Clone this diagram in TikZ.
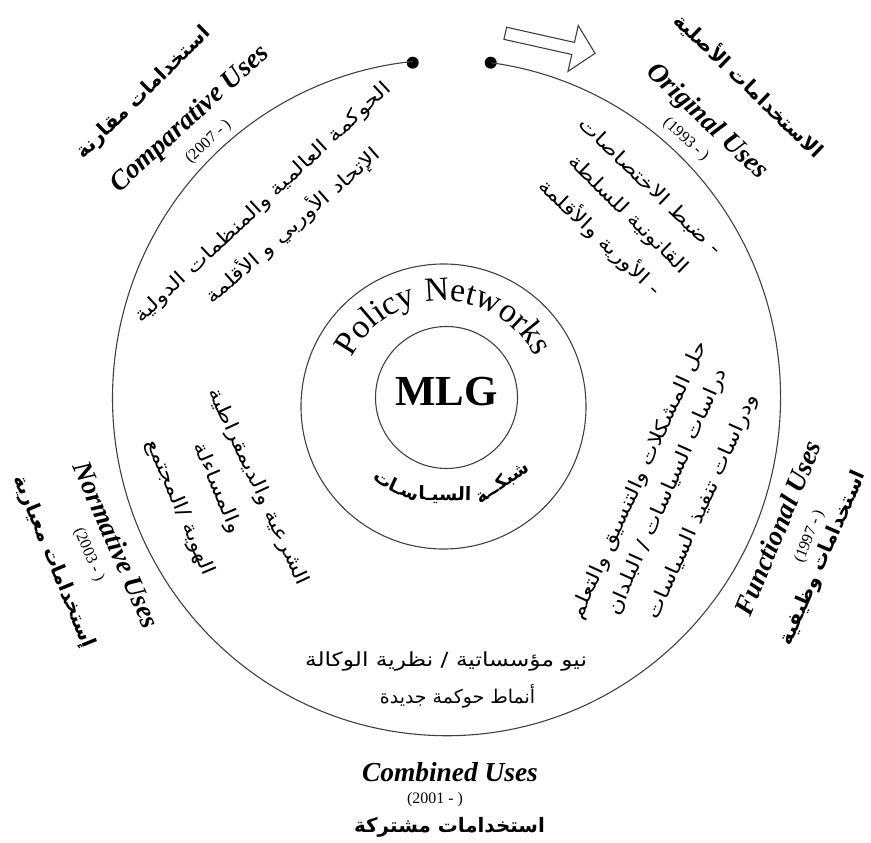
\documentclass[tikz,border=0pt]{standalone}
\usepackage{fontspec}
\setmainfont{Liberation Serif}
\newfontfamily\arabicfont[Script=Arabic]{DejaVu Sans}
\newfontfamily\arabicwide[Script=Arabic, FakeStretch=1.2]{DejaVu Sans}
\TeXXeTstate=1
\usetikzlibrary{decorations.text}
\newcommand{\rtl}[1]{\beginR #1\endR}

\begin{document}
\begin{tikzpicture}[x=1bp, y=1bp,
  ring/.style={draw=black!75, line width=1.1bp},
  enlabel/.style={inner sep=0, font=\fontsize{27.5}{30}\selectfont\bfseries\itshape},
  yearlabel/.style={inner sep=0, font=\fontsize{16}{18}\selectfont},
  arlabel/.style={inner sep=0, font=\arabicfont\bfseries\fontsize{20}{24}\selectfont},
  arnote/.style={inner sep=0, font=\arabicwide\fontsize{19.5}{22}\selectfont},
  arcpiece/.style={inner sep=0, font=\arabicfont\bfseries\fontsize{18.5}{20}\selectfont},
  enddot/.style={circle, fill=black, inner sep=0, minimum size=12bp}]
\useasboundingbox (-446.5,-443) rectangle (424.5,400);

% rings
\node[enddot] (rightdot) at (44.2,337.3) {};
\node[enddot] (leftdot) at (-33.8,337.3) {};
\draw[ring] (rightdot.center) arc[start angle=82.4, end angle=-264.2, x radius=334, y radius=338];
\draw[ring] (-3,-6.5) circle[radius=142.5];
\draw[ring] (0,2.5) circle[radius=71];

% hollow arrow
\draw[ring, fill=white, shift={(58.8,366.7)}, rotate=-12.6]
  (0,6.2) -- (69.5,6.2) -- (69.5,23.5) -- (92,0) -- (69.5,-23.5) -- (69.5,-6.2) -- (0,-6.2) -- cycle;

% centre
\node[inner sep=0, font=\fontsize{43}{43}\selectfont\bfseries] (mlg) at (0,8) {MLG};
\path[decorate, decoration={text along path, text align=center,
  text={|\fontsize{34}{34}\selectfont|Policy Networks}}]
  (-3,-4) ++(168:103) arc[start angle=168, end angle=12, radius=103];
\foreach \ang/\rad/\piece in {-56/100/شبكــة, -91/95/السيـا, -115/99/سـا, -128.5/104/ت}
  \node[arcpiece, rotate=\ang+90] at (\ang:\rad) {\rtl{\piece}};

% comparative
\node[arlabel, rotate=44.6] (comp-ar) at (134.6:431) {\rtl{استخدامات مقارنة}};
\node[enlabel, rotate=42.4] (comp-en) at (132.4:380) {Comparative Uses};
\node[yearlabel, rotate=42.7] (comp-year) at (132.7:351) {(2007 - )};
\node[arnote, rotate=43] (comp-one) at (133:269) {\rtl{الحوكمة العالمية والمنظمات الدولية}};
\node[arnote, rotate=41.4] (comp-two) at (131.4:233) {\rtl{الإتحاد الأوربي و الأقلمة}};

% original
\node[arlabel, rotate=-43.9] (orig-ar) at (46.1:437) {\rtl{الاستخدامات الأصلية}};
\node[enlabel, rotate=-43.1] (orig-en) at (46.9:381) {Original Uses};
\node[yearlabel, rotate=-42.6] (orig-year) at (47.4:353.5) {(1993 - )};
\node[arnote, rotate=-43.7] (orig-one) at (46.3:295) {\rtl{- ضبط الاختصاصات}};
\node[arnote, rotate=-44.5] (orig-two) at (45.5:259) {\rtl{القانونية للسلطة}};
\node[arnote, rotate=-43.3] (orig-three) at (46.7:224) {\rtl{- الأورية والأقلمة}};

% functional
\node[enlabel, rotate=67.5] (func-en) at (-21.1:355) {Functional Uses};
\node[yearlabel, rotate=68] (func-year) at (-20.6:388) {(1997 - )};
\node[arlabel, rotate=66.5] (func-ar) at (-22.8:409) {\rtl{استخدامات وظيفية}};
\node[arnote, rotate=65.5] (func-one) at (-22.5:209) {\rtl{حل المشكلات والتنسيق والتعلم}};
\node[arnote, rotate=66] (func-two) at (-22.6:240) {\rtl{دراسات السياسات / البلدان}};
\node[arnote, rotate=66] (func-three) at (-22.6:278) {\rtl{ودراسات تنفيذ السياسات}};

% normative
\node[enlabel, rotate=-66.3] (norm-en) at (203.7:360) {Normative Uses};
\node[yearlabel, rotate=-66.6] (norm-year) at (203.4:390) {(2003 - )};
\node[arlabel, rotate=-67.6] (norm-ar) at (202.4:425) {\rtl{إستخدامات معيارية}};
\node[arnote, rotate=-65.2] (norm-one) at (204.8:207.6) {\rtl{الشرعية والديمقراطية}};
\node[arnote, rotate=-67] (norm-two) at (201:245.8) {\rtl{والمساءلة}};
\node[arnote, rotate=-67] (norm-three) at (202:287.5) {\rtl{الهوية /المجتمع}};

% combined
\node[enlabel] (comb-en) at (3.5,-372) {Combined Uses};
\node[yearlabel] (comb-year) at (-11.5,-400) {(2001 - )};
\node[arlabel] (comb-ar) at (3,-427) {\rtl{استخدامات مشتركة}};
\node[arnote] (comb-one) at (-0.5,-261) {\rtl{نيو مؤسساتية / نظرية الوكالة}};
\node[arnote, font=\arabicfont\fontsize{19}{22}\selectfont] (comb-two) at (11,-296) {\rtl{أنماط حوكمة جديدة}};
\end{tikzpicture}
\end{document}
